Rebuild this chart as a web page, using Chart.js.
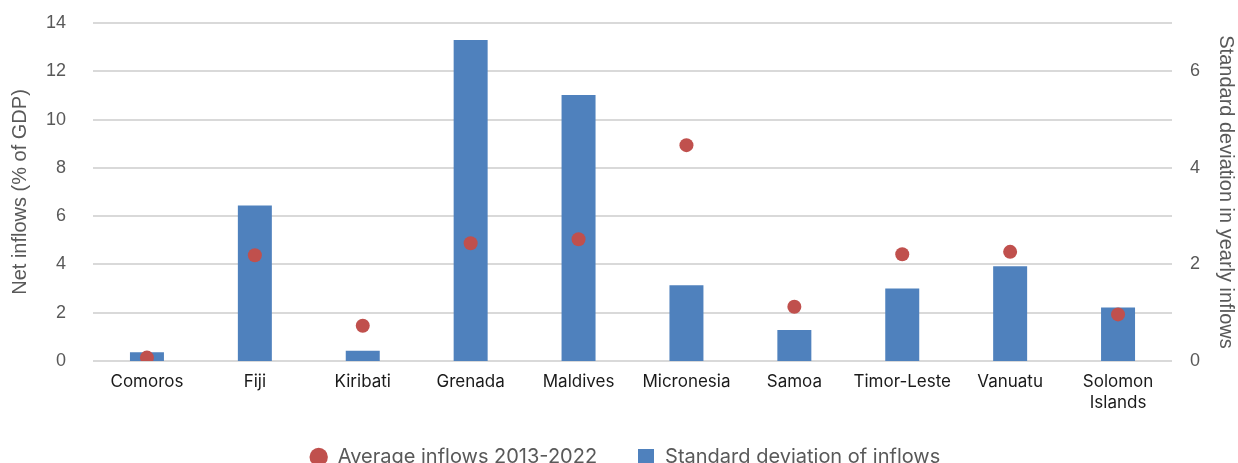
<!DOCTYPE html>
<html>
<head>
<meta charset="utf-8">
<script src="https://cdn.jsdelivr.net/npm/chart.js@4/dist/chart.umd.min.js"></script>
<style>
  html, body { margin: 0; padding: 0; background: #ffffff; overflow: hidden; }
  #wrap { position: relative; width: 1238px; height: 487px; }
</style>
</head>
<body>
<div id="wrap"><canvas id="c"></canvas></div>
<script>
// Countries on the category axis
const countries = ['Comoros', 'Fiji', 'Kiribati', 'Grenada', 'Maldives', 'Micronesia',
                   'Samoa', 'Timor-Leste', 'Vanuatu', ['Solomon', 'Islands']];
// Average net inflows 2013-2022, % of GDP (left axis)
const averageInflows = [0.14, 4.38, 1.46, 4.88, 5.04, 8.94, 2.25, 4.42, 4.52, 1.93];
// Standard deviation of yearly inflows (right axis)
const stdDevInflows = [0.18, 3.22, 0.21, 6.65, 5.51, 1.57, 0.64, 1.50, 1.96, 1.11];
// Axis ticks
const netInflowTicks = [0, 2, 4, 6, 8, 10, 12, 14];
const stdDevTicks = [0, 2, 4, 6];

const RED = '#C0504D';
const BLUE = '#4F81BD';
const GREY = '#595959';
const numFont = { family: '"Liberation Sans", Arial, sans-serif', size: 18 };
const titleFont = { family: '"Liberation Sans", Arial, sans-serif', size: 20 };

// Square legend marker
const square = document.createElement('canvas');
square.width = 16; square.height = 16;
const sctx = square.getContext('2d');
sctx.fillStyle = BLUE; sctx.fillRect(0, 0, 16, 16);

// Fixed axis widths; tick padding is only a horizontal offset here
function fixWidth(w) {
  return function (scale) {
    scale.width = w;
    scale.paddingTop = 0;
    scale.paddingBottom = 0;
  };
}

// Pull the legend row up closer to the category labels
const legendNudge = {
  id: 'legendNudge',
  afterLayout(chart) {
    const lg = chart.legend;
    if (!lg) return;
    lg.top -= 10; lg.bottom -= 10;
    lg.left += 6; lg.right += 6;
  }
};

new Chart(document.getElementById('c'), {
  data: {
    labels: countries,
    datasets: [
      {
        type: 'line',
        label: 'Average inflows 2013-2022',
        data: averageInflows,
        yAxisID: 'y',
        showLine: false,
        pointStyle: 'circle',
        pointRadius: 7,
        pointHoverRadius: 7,
        pointBackgroundColor: RED,
        pointBorderWidth: 0,
        backgroundColor: RED,
        borderColor: RED,
        order: 0
      },
      {
        type: 'bar',
        label: 'Standard deviation of inflows',
        data: stdDevInflows,
        yAxisID: 'y2',
        backgroundColor: BLUE,
        borderWidth: 0,
        barPercentage: 0.315,
        categoryPercentage: 1,
        order: 1
      }
    ]
  },
  plugins: [legendNudge],
  options: {
    responsive: true,
    maintainAspectRatio: false,
    animation: false,
    layout: { padding: { top: 23, bottom: 0, left: 0, right: 0 } },
    plugins: {
      tooltip: { enabled: false },
      legend: {
        position: 'bottom',
        labels: {
          usePointStyle: true,
          boxWidth: 18,
          boxHeight: 13,
          padding: 40,
          color: GREY,
          font: { family: 'Inter, "Liberation Sans", sans-serif', size: 20 },
          generateLabels(chart) {
            const items = Chart.defaults.plugins.legend.labels.generateLabels(chart);
            items[0].pointStyle = 'circle';
            items[0].fillStyle = RED;
            items[0].strokeStyle = RED;
            items[0].lineWidth = 0;
            items[1].pointStyle = square;
            return items;
          }
        }
      }
    },
    scales: {
      x: {
        offset: true,
        grid: { display: false, drawTicks: false },
        border: { display: false },
        ticks: {
          color: '#1a1a1a',
          padding: 11,
          maxRotation: 0,
          autoSkip: false,
          font: { family: 'Inter, "Liberation Sans", sans-serif', size: 17, lineHeight: 1.2 }
        },
        afterFit(scale) { scale.height = 56; }
      },
      y: {
        position: 'left',
        min: 0, max: 14,
        afterBuildTicks(scale) { scale.ticks = netInflowTicks.map(v => ({ value: v })); },
        afterFit: fixWidth(93),
        grid: { color: '#d9d9d9', lineWidth: 2, drawTicks: false },
        border: { display: false },
        ticks: { color: GREY, padding: 27, font: numFont },
        title: {
          display: true,
          text: 'Net inflows (% of GDP)',
          color: GREY,
          font: titleFont,
          padding: { top: 8, bottom: 0 }
        }
      },
      y2: {
        position: 'right',
        min: 0, max: 7,
        afterBuildTicks(scale) { scale.ticks = stdDevTicks.map(v => ({ value: v })); },
        afterFit: fixWidth(66),
        grid: { display: false, drawTicks: false },
        border: { display: false },
        ticks: { color: GREY, padding: 18, font: numFont },
        title: {
          display: true,
          text: 'Standard deviation in yearly inflows',
          color: GREY,
          font: titleFont,
          padding: { top: 0, bottom: 0 }
        }
      }
    }
  }
});
</script>
</body>
</html>
